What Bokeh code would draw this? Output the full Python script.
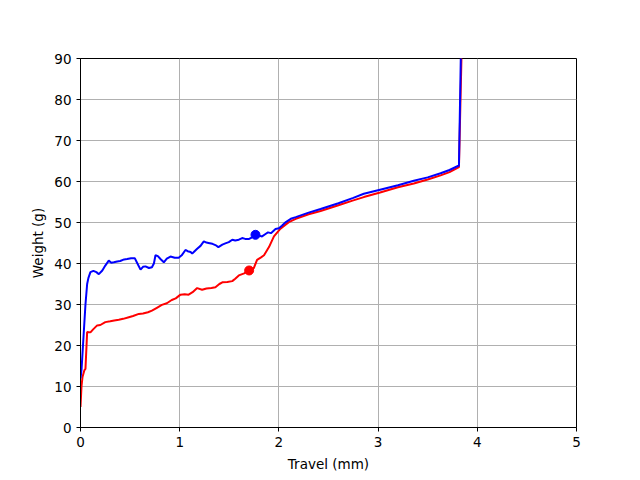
from bokeh.plotting import figure
from bokeh.models import Range1d, FixedTicker
from bokeh.embed import file_html
from bokeh.resources import INLINE

blue_x = [0.0, 0.01, 0.03, 0.05, 0.067, 0.08, 0.10, 0.13, 0.16, 0.185, 0.22, 0.25, 0.285, 0.31, 0.336,
          0.37, 0.40, 0.44, 0.47, 0.51, 0.547, 0.57, 0.605, 0.63, 0.655, 0.69, 0.72, 0.74, 0.756, 0.78,
          0.806, 0.84, 0.87, 0.907, 0.95, 0.99, 1.02, 1.058, 1.08, 1.11, 1.126, 1.15, 1.176, 1.21, 1.243,
          1.27, 1.29, 1.33, 1.36, 1.39, 1.43, 1.46, 1.495, 1.53, 1.56, 1.596, 1.63, 1.66, 1.70, 1.73,
          1.764, 1.80, 1.83, 1.865, 1.89, 1.92, 1.966, 2.0, 2.03, 2.07, 2.12, 2.17, 2.3, 2.42, 2.6,
          2.75, 2.856, 3.02, 3.2, 3.36, 3.5, 3.63, 3.72, 3.815, 3.837]
blue_y = [12, 14, 22, 30, 35, 36.5, 37.9, 38.2, 37.9, 37.4, 38.3, 39.5, 40.7, 40.2, 40.3,
          40.5, 40.6, 41.0, 41.1, 41.3, 41.3, 40.2, 38.5, 39.2, 39.3, 38.9, 39.1, 40.0, 42.0, 41.8,
          41.1, 40.3, 41.2, 41.7, 41.4, 41.4, 42.0, 43.3, 43.0, 42.8, 42.4, 43.0, 43.6, 44.3, 45.4,
          45.1, 45.0, 44.8, 44.5, 44.0, 44.6, 44.9, 45.2, 45.8, 45.6, 45.8, 46.2, 46.0, 46.0, 46.4,
          47.0, 46.8, 46.6, 47.2, 47.6, 47.4, 48.4, 48.6, 49.2, 50.1, 50.9, 51.3, 52.4, 53.3, 54.7,
          56.0, 57.0, 58.0, 59.1, 60.2, 61.0, 62.0, 62.8, 63.9, 95]

red_x = [0.0, 0.01, 0.02, 0.04, 0.05, 0.067, 0.10, 0.13, 0.168, 0.2, 0.25, 0.3, 0.34, 0.386, 0.43,
         0.487, 0.53, 0.588, 0.63, 0.68, 0.72, 0.77, 0.82, 0.87, 0.92, 0.96, 1.008, 1.05, 1.09, 1.13,
         1.176, 1.226, 1.27, 1.32, 1.36, 1.40, 1.43, 1.48, 1.53, 1.56, 1.596, 1.65, 1.70, 1.747, 1.78,
         1.82, 1.85, 1.90, 1.95, 2.016, 2.10, 2.17, 2.3, 2.42, 2.6, 2.75, 2.856, 3.02, 3.2, 3.36,
         3.5, 3.63, 3.72, 3.815, 3.845]
red_y = [5, 10, 12.3, 14.0, 14.3, 23.3, 23.2, 24.0, 24.9, 25.0, 25.7, 25.9, 26.1, 26.3, 26.5,
         26.9, 27.2, 27.7, 27.8, 28.1, 28.5, 29.2, 29.9, 30.3, 31.1, 31.5, 32.4, 32.5, 32.4, 33.0,
         34.0, 33.6, 33.9, 34.0, 34.2, 35.0, 35.4, 35.5, 35.7, 36.3, 37.1, 37.6, 38.3, 38.9, 40.9,
         41.5, 42.0, 44.0, 46.6, 48.5, 50.1, 50.9, 52.0, 52.8, 54.2, 55.4, 56.2, 57.3, 58.6, 59.5,
         60.5, 61.5, 62.3, 63.5, 95]

marker_blue = (1.764, 47.0)
marker_red = (1.70, 38.3)

x_ticks = [0, 1, 2, 3, 4, 5]
y_ticks = [0, 10, 20, 30, 40, 50, 60, 70, 80, 90]

p = figure(width=640, height=480, output_backend="svg", toolbar_location=None,
           x_range=Range1d(0, 5), y_range=Range1d(0, 90),
           min_border_left=80, min_border_right=64, min_border_top=58, min_border_bottom=53)

p.outline_line_color = "black"
p.outline_line_width = 1
p.background_fill_color = "white"
p.border_fill_color = "white"

for ax in (p.xaxis, p.yaxis):
    ax.axis_line_color = "black"
    ax.major_tick_line_color = "black"
    ax.major_tick_out = 4
    ax.major_tick_in = 0
    ax.minor_tick_line_color = None
    ax.major_label_text_font = "DejaVu Sans"
    ax.major_label_text_font_size = "13.5px"
    ax.major_label_text_color = "black"
    ax.axis_label_text_font = "DejaVu Sans"
    ax.axis_label_text_font_size = "13.5px"
    ax.axis_label_text_font_style = "normal"
    ax.axis_label_text_color = "black"

p.xaxis.ticker = FixedTicker(ticks=x_ticks)
p.yaxis.ticker = FixedTicker(ticks=y_ticks)
p.xaxis.axis_label = "Travel (mm)"
p.yaxis.axis_label = "Weight (g)"
p.xaxis.axis_label_standoff = 6
p.yaxis.axis_label_standoff = 5

p.grid.grid_line_color = "#b0b0b0"
p.grid.grid_line_width = 1

p.line(red_x, red_y, line_color="#ff0000", line_width=2)
p.line(blue_x, blue_y, line_color="#0000ff", line_width=2)
p.scatter([marker_red[0]], [marker_red[1]], size=9, fill_color="#ff0000", line_color="#ff0000")
p.scatter([marker_blue[0]], [marker_blue[1]], size=9, fill_color="#0000ff", line_color="#0000ff")

open("out.html", "w").write(file_html(p, INLINE))
